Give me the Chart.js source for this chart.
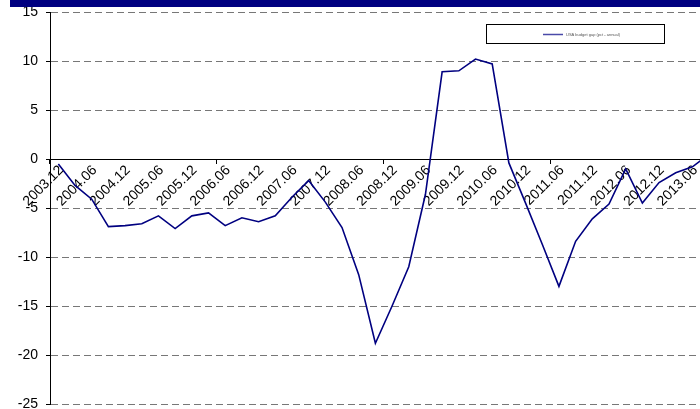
<!DOCTYPE html>
<html>
<head>
<meta charset="utf-8">
<script src="https://cdn.jsdelivr.net/npm/chart.js@4/dist/chart.umd.min.js"></script>
<style>
  html, body { margin: 0; padding: 0; background: #fff; overflow: hidden; }
  #wrap { position: absolute; left: 0; top: 0; width: 720px; height: 420px; }
</style>
</head>
<body>
<div id="wrap"><canvas id="myChart" width="720" height="420"></canvas></div>
<script>
// quarterly categories, labelled every half year
const categories = [
  '2003.12', '2004.03', '2004.06', '2004.09', '2004.12', '2005.03', '2005.06', '2005.09',
  '2005.12', '2006.03', '2006.06', '2006.09', '2006.12', '2007.03', '2007.06', '2007.09',
  '2007.12', '2008.03', '2008.06', '2008.09', '2008.12', '2009.03', '2009.06', '2009.09',
  '2009.12', '2010.03', '2010.06', '2010.09', '2010.12', '2011.03', '2011.06', '2011.09',
  '2011.12', '2012.03', '2012.06', '2012.09', '2012.12', '2013.03', '2013.06', '2013.09'
];

const values = [
  -0.5, -2.7, -4.1, -6.9, -6.8, -6.6, -5.8, -7.1,
  -5.8, -5.5, -6.8, -6.0, -6.4, -5.8, -3.9, -2.2,
  -4.4, -7.0, -11.8, -18.8, -15.0, -11.0, -3.6, 8.9,
  9.0, 10.2, 9.7, -0.4, -4.5, -8.7, -13.0, -8.4,
  -6.1, -4.6, -1.0, -4.5, -2.4, -1.4, -0.8, 0.5
];

const seriesName = 'USA budget gap (pct - annual)';
const yTicks = [-25, -20, -15, -10, -5, 0, 5, 10, 15];

const FONT = '"Liberation Sans", Arial, sans-serif';

// navy strip along the top edge
const topBar = {
  id: 'topBar',
  afterDraw(chart) {
    const { ctx } = chart;
    ctx.save();
    ctx.fillStyle = '#000080';
    ctx.fillRect(10, 0, chart.width - 10, 7);
    ctx.restore();
  }
};

// small boxed legend in the upper right
const boxLegend = {
  id: 'boxLegend',
  afterDraw(chart) {
    const { ctx } = chart;
    const ds = chart.data.datasets[0];
    ctx.save();
    ctx.fillStyle = '#fff';
    ctx.fillRect(486.5, 24.5, 178, 19);
    ctx.strokeStyle = '#000';
    ctx.lineWidth = 1;
    ctx.strokeRect(486.5, 24.5, 178, 19);
    ctx.strokeStyle = '#4a4aa8';
    ctx.lineWidth = 1.5;
    ctx.beginPath();
    ctx.moveTo(543, 34.5);
    ctx.lineTo(563, 34.5);
    ctx.stroke();
    ctx.fillStyle = '#555';
    ctx.font = '4px ' + FONT;
    ctx.textBaseline = 'middle';
    ctx.fillText(ds.label, 566, 35);
    ctx.restore();
  }
};

new Chart(document.getElementById('myChart'), {
  type: 'line',
  data: {
    labels: categories,
    datasets: [{
      label: seriesName,
      data: values,
      borderColor: '#000080',
      borderWidth: 1.6,
      pointRadius: 0,
      tension: 0,
      fill: false
    }]
  },
  options: {
    responsive: false,
    animation: false,
    layout: { padding: { top: 12, bottom: 16, left: 0, right: 0 } },
    plugins: {
      legend: { display: false },
      tooltip: { enabled: false }
    },
    scales: {
      x: {
        position: { y: 0 },
        offset: true,
        afterFit(scale) { scale.paddingTop = 0; scale.paddingBottom = 0; },
        grid: {
          offset: true,
          drawOnChartArea: false,
          drawTicks: true,
          tickLength: 4,
          tickColor: c => (c.index % 10 === 0 ? '#000' : 'rgba(0,0,0,0)')
        },
        border: { color: '#000', width: 1 },
        ticks: {
          autoSkip: false,
          minRotation: 45,
          maxRotation: 45,
          padding: -1,
          labelOffset: 3,
          color: '#000',
          font: { family: FONT, size: 14 },
          callback: function (value, index) {
            return index % 2 === 0 ? this.getLabelForValue(value) : '';
          }
        }
      },
      y: {
        min: -25,
        max: 15,
        afterFit(scale) {
          scale.width = 50;
          scale.paddingTop = 0;
          scale.paddingBottom = 0;
        },
        afterBuildTicks(scale) { scale.ticks = yTicks.map(v => ({ value: v })); },
        grid: {
          color: '#777',
          tickColor: '#000',
          tickLength: 4
        },
        border: { color: '#000', width: 1, dash: [7, 4] },
        ticks: {
          padding: 8,
          color: '#000',
          font: { family: FONT, size: 14 }
        }
      }
    }
  },
  plugins: [topBar, boxLegend]
});
</script>
</body>
</html>
